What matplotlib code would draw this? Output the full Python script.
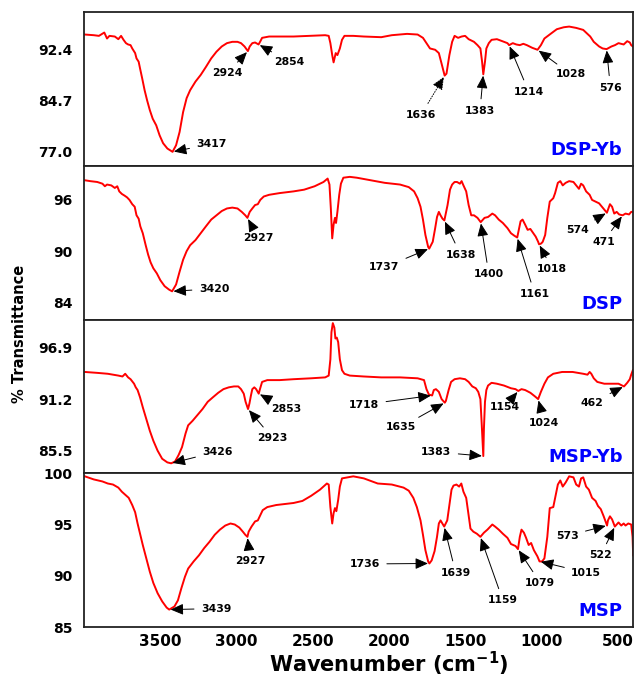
import numpy as np
import matplotlib
matplotlib.use("Agg")
import matplotlib.pyplot as plt

# FTIR spectra: (wavenumber cm-1, % transmittance)
dsp_yb = np.array([
    (3991, 94.7), (3933, 94.6), (3899, 94.5), (3864, 95.0), (3846, 94.1), (3830, 94.5),
    (3795, 94.4), (3772, 94.0), (3754, 94.5), (3738, 93.9), (3722, 93.4), (3708, 93.2),
    (3692, 93.1), (3681, 92.6), (3662, 91.9), (3653, 91.1), (3639, 90.6), (3630, 89.6),
    (3616, 88.1), (3600, 86.3), (3584, 84.8), (3566, 83.3), (3547, 82.0), (3524, 81.0),
    (3502, 79.5), (3479, 78.3), (3451, 77.5), (3417, 77.0), (3394, 78.0), (3371, 80.0),
    (3348, 83.0), (3325, 85.1), (3302, 86.3), (3267, 87.6), (3233, 88.6), (3199, 89.8),
    (3164, 91.1), (3130, 92.1), (3095, 92.9), (3061, 93.4), (3026, 93.6), (2992, 93.6),
    (2969, 93.4), (2946, 92.9), (2924, 92.2), (2912, 92.9), (2895, 93.4), (2877, 93.5),
    (2854, 93.2), (2842, 93.7), (2831, 94.2), (2785, 94.4), (2625, 94.4), (2418, 94.6),
    (2395, 94.5), (2384, 93.4), (2372, 91.6), (2363, 90.5), (2349, 91.9), (2338, 91.6),
    (2322, 92.6), (2308, 93.9), (2292, 94.5), (2234, 94.5), (2165, 94.4), (2051, 94.3),
    (1982, 94.6), (1882, 94.8), (1813, 94.7), (1778, 94.2), (1755, 93.4), (1732, 92.6),
    (1698, 92.4), (1674, 91.9), (1656, 90.3), (1636, 88.5), (1624, 88.8), (1605, 91.6),
    (1587, 93.6), (1571, 94.5), (1548, 94.2), (1525, 94.4), (1502, 94.5), (1479, 94.0),
    (1444, 93.6), (1421, 93.1), (1402, 92.6), (1391, 90.6), (1383, 88.7), (1372, 90.6),
    (1363, 92.6), (1347, 93.4), (1329, 93.9), (1294, 94.0), (1259, 93.7), (1225, 93.4),
    (1214, 93.1), (1190, 93.4), (1167, 93.2), (1144, 93.1), (1121, 93.3), (1098, 93.1),
    (1063, 92.7), (1028, 92.4), (1006, 93.1), (983, 94.1), (960, 94.5), (937, 94.9),
    (902, 95.5), (856, 95.8), (821, 95.9), (775, 95.7), (729, 95.4), (683, 94.4),
    (660, 93.6), (625, 92.9), (602, 92.6), (576, 92.5), (544, 92.9), (521, 93.1),
    (498, 93.4), (464, 93.2), (441, 93.7), (424, 93.5), (415, 93.1), (404, 92.9),
])

dsp = np.array([
    (3991, 98.3), (3956, 98.2), (3910, 98.1), (3876, 97.9), (3860, 97.6), (3846, 97.8),
    (3818, 97.7), (3795, 97.4), (3779, 97.6), (3766, 97.0), (3749, 96.7), (3731, 96.5),
    (3715, 96.3), (3699, 96.0), (3681, 95.5), (3665, 95.2), (3653, 94.2), (3639, 93.8),
    (3628, 92.9), (3612, 92.1), (3593, 90.7), (3577, 89.6), (3561, 88.7), (3543, 88.0),
    (3520, 87.4), (3497, 86.6), (3469, 85.9), (3440, 85.5), (3420, 85.3), (3394, 86.1),
    (3371, 87.6), (3348, 89.0), (3325, 90.0), (3302, 90.7), (3267, 91.3), (3233, 92.1),
    (3199, 92.9), (3164, 93.7), (3130, 94.2), (3095, 94.7), (3061, 95.0), (3026, 95.1),
    (2992, 95.0), (2964, 94.6), (2941, 94.2), (2927, 93.9), (2912, 94.6), (2895, 95.0),
    (2877, 95.4), (2859, 95.5), (2843, 96.0), (2820, 96.4), (2785, 96.6), (2716, 96.8),
    (2625, 97.0), (2556, 97.2), (2487, 97.6), (2429, 98.1), (2402, 98.5), (2390, 97.8),
    (2381, 95.0), (2372, 91.5), (2363, 93.1), (2354, 93.9), (2347, 93.3), (2338, 94.6),
    (2326, 96.6), (2315, 97.9), (2299, 98.6), (2257, 98.7), (2211, 98.6), (2120, 98.3),
    (2028, 98.0), (1928, 97.8), (1871, 97.5), (1836, 97.0), (1813, 96.2), (1794, 95.2),
    (1778, 93.7), (1762, 91.9), (1744, 90.5), (1737, 90.3), (1714, 91.1), (1698, 92.7),
    (1686, 94.0), (1674, 94.6), (1663, 94.2), (1650, 93.8), (1638, 93.6), (1617, 95.4),
    (1601, 97.2), (1587, 97.8), (1571, 98.1), (1555, 98.1), (1536, 97.9), (1525, 98.2),
    (1513, 97.7), (1495, 97.0), (1479, 95.4), (1462, 94.2), (1444, 94.2), (1421, 93.9),
    (1400, 93.4), (1375, 93.9), (1352, 94.0), (1324, 94.4), (1306, 94.2), (1282, 93.7),
    (1255, 93.3), (1225, 92.7), (1202, 92.1), (1179, 91.8), (1161, 91.6), (1139, 93.5),
    (1126, 93.7), (1109, 93.1), (1093, 92.5), (1075, 92.6), (1056, 92.1), (1040, 91.7),
    (1024, 91.1), (1018, 90.8), (1004, 90.9), (994, 91.1), (978, 91.9), (964, 93.9),
    (948, 95.8), (925, 96.2), (913, 96.8), (895, 98.0), (879, 98.2), (863, 97.7),
    (844, 98.0), (821, 98.2), (793, 98.1), (775, 97.7), (757, 97.3), (743, 97.9),
    (729, 97.7), (710, 97.0), (687, 96.6), (671, 96.0), (648, 95.8), (625, 95.6),
    (602, 95.1), (574, 94.5), (554, 95.5), (540, 95.2), (526, 94.4), (510, 94.6),
    (494, 94.3), (471, 94.2), (452, 94.4), (429, 94.3), (415, 94.6), (404, 94.6),
])

msp_yb = np.array([
    (3991, 94.2), (3910, 94.1), (3841, 94.0), (3772, 93.8), (3745, 93.7), (3727, 94.0),
    (3708, 93.6), (3692, 93.4), (3669, 92.9), (3658, 92.5), (3646, 92.2), (3630, 91.4),
    (3612, 90.3), (3589, 89.0), (3566, 87.7), (3543, 86.6), (3515, 85.5), (3485, 84.6),
    (3451, 84.2), (3426, 84.1), (3401, 84.3), (3378, 85.0), (3355, 85.9), (3332, 87.4),
    (3315, 88.3), (3286, 88.8), (3256, 89.4), (3221, 90.1), (3187, 90.9), (3153, 91.4),
    (3118, 91.9), (3084, 92.3), (3049, 92.5), (3015, 92.6), (2987, 92.6), (2969, 92.3),
    (2951, 91.8), (2939, 90.9), (2923, 90.1), (2914, 90.7), (2904, 91.6), (2895, 92.3),
    (2882, 92.5), (2870, 92.3), (2853, 91.8), (2845, 92.3), (2831, 93.1), (2797, 93.3),
    (2716, 93.3), (2625, 93.4), (2510, 93.5), (2418, 93.6), (2395, 93.8), (2384, 95.6),
    (2377, 98.6), (2368, 99.6), (2358, 99.1), (2351, 97.9), (2342, 98.0), (2333, 97.5),
    (2322, 95.6), (2308, 94.4), (2292, 94.0), (2257, 93.8), (2165, 93.7), (2051, 93.6),
    (1928, 93.6), (1813, 93.5), (1771, 93.3), (1755, 92.3), (1739, 91.7), (1718, 91.6),
    (1707, 92.2), (1693, 92.3), (1674, 92.0), (1656, 91.2), (1635, 90.8), (1628, 91.0),
    (1610, 92.2), (1594, 93.1), (1571, 93.4), (1536, 93.5), (1502, 93.4), (1479, 93.1),
    (1455, 92.6), (1432, 92.4), (1416, 92.0), (1402, 91.2), (1393, 88.3), (1383, 84.9),
    (1379, 87.9), (1372, 90.9), (1363, 92.2), (1352, 92.7), (1329, 93.0), (1294, 92.9),
    (1248, 92.7), (1202, 92.4), (1172, 92.3), (1154, 92.1), (1133, 92.3), (1109, 92.2),
    (1075, 91.9), (1045, 91.5), (1024, 91.2), (1006, 92.0), (983, 92.9), (960, 93.6),
    (925, 94.0), (867, 94.2), (798, 94.2), (729, 94.0), (701, 93.9), (687, 94.2),
    (676, 94.0), (660, 93.5), (637, 93.1), (591, 92.9), (544, 92.9), (498, 92.9),
    (462, 92.6), (441, 93.0), (424, 93.4), (415, 93.9), (404, 94.4),
])

msp = np.array([
    (3991, 99.7), (3933, 99.4), (3876, 99.2), (3841, 99.0), (3807, 98.9), (3772, 98.6),
    (3749, 98.2), (3727, 97.9), (3704, 97.6), (3681, 96.9), (3662, 96.2), (3646, 95.1),
    (3630, 94.1), (3612, 93.0), (3589, 91.7), (3566, 90.4), (3543, 89.3), (3515, 88.3),
    (3485, 87.5), (3456, 86.9), (3439, 86.7), (3405, 87.0), (3382, 87.6), (3359, 88.8),
    (3336, 89.9), (3315, 90.7), (3279, 91.4), (3244, 92.0), (3210, 92.7), (3176, 93.3),
    (3141, 94.0), (3107, 94.5), (3072, 94.9), (3038, 95.1), (3010, 95.0), (2980, 94.7),
    (2957, 94.3), (2941, 94.0), (2927, 93.8), (2919, 94.3), (2900, 94.8), (2877, 95.3),
    (2859, 95.4), (2843, 95.9), (2827, 96.4), (2797, 96.7), (2739, 96.9), (2682, 97.0),
    (2625, 97.1), (2567, 97.3), (2510, 97.8), (2452, 98.4), (2407, 99.0), (2395, 98.9),
    (2384, 96.7), (2372, 95.1), (2363, 96.1), (2354, 96.6), (2345, 96.3), (2333, 97.4),
    (2322, 98.7), (2308, 99.5), (2269, 99.6), (2234, 99.7), (2165, 99.5), (2074, 99.0),
    (1982, 98.9), (1905, 98.6), (1871, 98.3), (1841, 97.6), (1818, 96.7), (1794, 95.4),
    (1778, 94.0), (1762, 92.5), (1744, 91.4), (1736, 91.2), (1721, 91.5), (1702, 92.4),
    (1686, 93.8), (1674, 95.1), (1663, 95.4), (1647, 95.0), (1639, 94.8), (1619, 95.4),
    (1605, 96.9), (1591, 98.4), (1578, 98.8), (1559, 98.9), (1541, 98.7), (1527, 99.0),
    (1513, 98.2), (1495, 97.6), (1481, 96.1), (1467, 94.6), (1448, 94.3), (1425, 94.1),
    (1402, 93.8), (1379, 94.2), (1356, 94.5), (1324, 95.0), (1306, 94.8), (1282, 94.5),
    (1255, 94.1), (1225, 93.7), (1202, 93.1), (1172, 92.9), (1156, 92.6), (1144, 93.8),
    (1133, 94.5), (1117, 94.2), (1103, 93.7), (1086, 93.0), (1070, 93.2), (1052, 92.5),
    (1029, 91.9), (1015, 91.4), (998, 91.4), (983, 91.7), (964, 93.8), (948, 96.6),
    (925, 96.7), (913, 97.6), (895, 98.9), (879, 99.3), (863, 98.7), (844, 99.1),
    (821, 99.7), (793, 99.6), (775, 98.9), (757, 98.7), (743, 99.5), (729, 99.6),
    (710, 98.7), (692, 98.4), (671, 97.6), (648, 97.3), (632, 96.8), (614, 96.5),
    (595, 95.8), (573, 94.9), (567, 95.4), (554, 95.8), (540, 95.5), (522, 94.8),
    (510, 95.0), (498, 95.2), (480, 94.9), (464, 95.1), (452, 94.9), (434, 95.1),
    (415, 95.0), (406, 93.8), (402, 92.0),
])

# band assignments: where each arrow points, and the text shown
dsp_yb_peaks = [3417, 2924, 2854, 1636, 1383, 1214, 1028, 576]
dsp_yb_peak_labels = [str(p) for p in dsp_yb_peaks]
dsp_peaks = [3420, 2927, 1737, 1638, 1400, 1161, 1018, 574, 471]
dsp_peak_labels = [str(p) for p in dsp_peaks]
msp_yb_peaks = [3426, 2923, 2853, 1718, 1635, 1383, 1154, 1024, 462]
msp_yb_peak_labels = [str(p) for p in msp_yb_peaks]
msp_peaks = [3439, 2927, 1736, 1639, 1402, 1156, 1015, 573, 522]
msp_peak_labels = ["3439", "2927", "1736", "1639", "1159", "1079", "1015", "573", "522"]

y_ticks = {
    "DSP-Yb": ["77.0", "84.7", "92.4"],
    "DSP": ["84", "90", "96"],
    "MSP-Yb": ["85.5", "91.2", "96.9"],
    "MSP": ["85", "90", "95", "100"],
}
x_ticks = [3500, 3000, 2500, 2000, 1500, 1000, 500]

# label placement (wavenumber, %T of text centre) and axis ranges
layout = {
    "DSP-Yb": dict(ylim=(74.9, 98.1),
                   text=[(3162, 78.2), (3058, 88.9), (2655, 90.6), (1790, 82.6),
                         (1405, 83.2), (1086, 86.1), (810, 88.7), (551, 86.7)]),
    "DSP": dict(ylim=(82.0, 100.0),
                text=[(3146, 85.6), (2858, 91.6), (2032, 88.1), (1532, 89.6), (1347, 87.3),
                      (1047, 85.0), (932, 87.9), (764, 92.5), (597, 91.1)]),
    "MSP-Yb": dict(ylim=(83.0, 100.0),
                   text=[(3123, 85.4), (2763, 86.9), (2676, 90.1), (2163, 90.6), (1921, 88.1),
                         (1691, 85.35), (1243, 90.3), (983, 88.6), (671, 90.8)]),
    "MSP": dict(ylim=(85.0, 100.0),
                text=[(3132, 86.8), (2908, 91.4), (2159, 91.15), (1564, 90.3), (1255, 87.6),
                      (1010, 89.3), (710, 90.3), (833, 93.9), (614, 92.0)]),
}

spectra = [
    ("DSP-Yb", dsp_yb, dsp_yb_peaks, dsp_yb_peak_labels),
    ("DSP", dsp, dsp_peaks, dsp_peak_labels),
    ("MSP-Yb", msp_yb, msp_yb_peaks, msp_yb_peak_labels),
    ("MSP", msp, msp_peaks, msp_peak_labels),
]

plt.rcParams["font.family"] = "DejaVu Sans"
plt.rcParams["font.weight"] = "bold"
plt.rcParams["mathtext.default"] = "bf"

fig, axes = plt.subplots(4, 1, figsize=(6.35, 6.78), dpi=100, sharex=True)
fig.subplots_adjust(left=0.1315, right=0.9976, top=0.9823, bottom=0.0752, hspace=0)

for ax, (name, data, peaks, peak_labels) in zip(axes, spectra):
    wn, tr = data[:, 0], data[:, 1]
    ax.plot(wn, tr, color="#ff0000", lw=1.4)
    ax.set_xlim(4000, 400)
    ax.set_ylim(*layout[name]["ylim"])

    labels = y_ticks[name]
    ax.set_yticks([float(v) for v in labels])
    ax.set_yticklabels(labels, fontsize=10, fontweight="bold")
    ax.tick_params(axis="y", length=0, pad=8)
    ax.tick_params(axis="x", length=0, pad=5)
    for sp in ax.spines.values():
        sp.set_linewidth(1.3)
        sp.set_color("#222222")

    for i, (p, lab) in enumerate(zip(peaks, peak_labels)):
        y_peak = np.interp(p, wn[::-1], tr[::-1])
        ls = ":" if (name == "DSP-Yb" and lab == "1636") else "-"
        ax.annotate(lab, xy=(p, y_peak), xytext=layout[name]["text"][i],
                    ha="center", va="center", fontsize=7.8, fontweight="bold",
                    arrowprops=dict(arrowstyle="-|>,head_length=0.55,head_width=0.24",
                                    color="black", lw=0.7, linestyle=ls,
                                    shrinkA=3, shrinkB=1, mutation_scale=14))

    ax.text(0.98, 0.07, name, transform=ax.transAxes, ha="right", va="baseline",
            color="#0000ff", fontsize=13, fontweight="bold")

axes[-1].set_xticks(x_ticks)
axes[-1].set_xticklabels([str(v) for v in x_ticks], fontsize=11, fontweight="bold")

fig.text(0.030, 0.507, "% Transmittance", rotation=90, ha="center", va="center",
         fontsize=10.5, fontweight="bold")
fig.text(0.613, 0.008, r"Wavenumber (cm$^{-1}$)", ha="center", va="baseline",
         fontsize=15, fontweight="bold")

fig.savefig("out.png", dpi=100)
